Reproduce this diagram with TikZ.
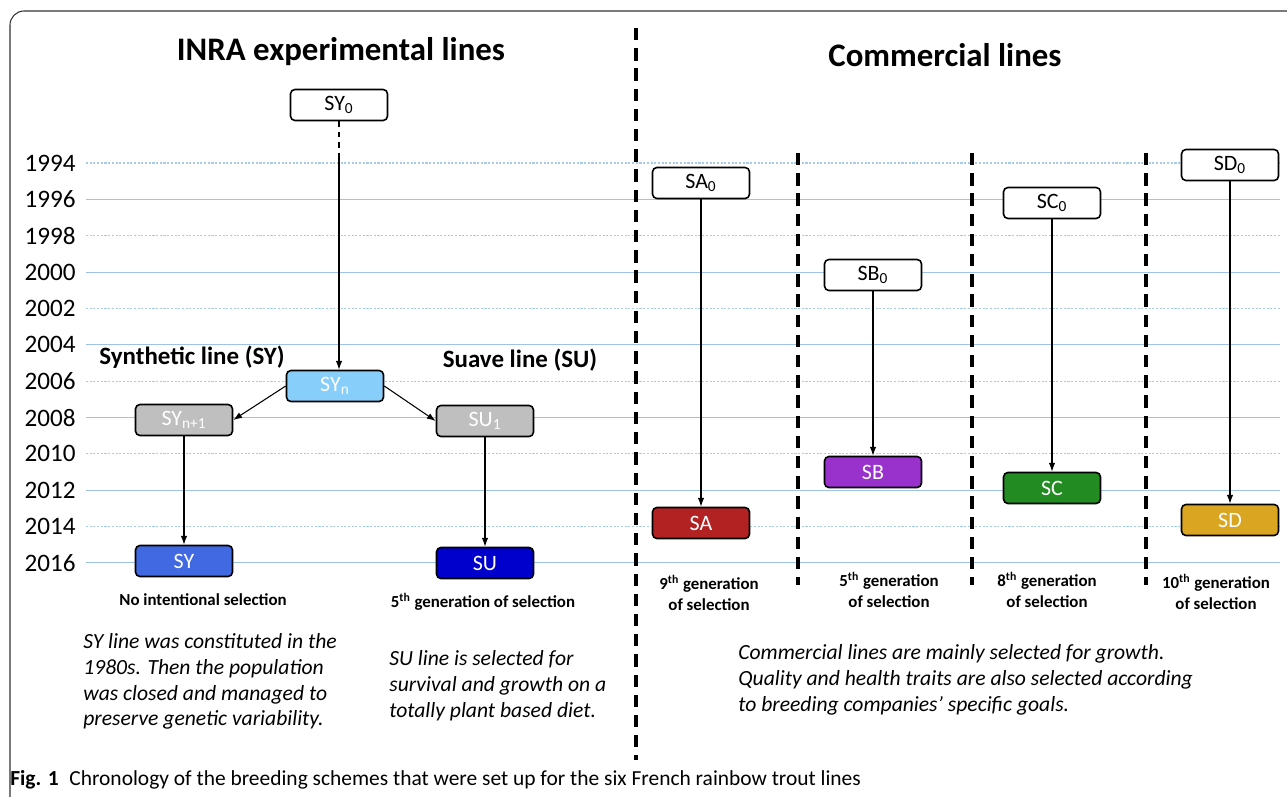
\documentclass[tikz,border=0pt]{standalone}
\usepackage{fontspec}
\setmainfont{Carlito}
\usetikzlibrary{arrows.meta}
\definecolor{gridblue}{HTML}{9DC3E6}
\definecolor{dotblue}{HTML}{A9CBEA}
\definecolor{synlight}{HTML}{87CEFA}
\definecolor{boxgray}{HTML}{BFBFBF}
\definecolor{syblue}{HTML}{4169E1}
\definecolor{sublue}{HTML}{0000CD}
\definecolor{sared}{HTML}{B22222}
\definecolor{sbpurple}{HTML}{9932CC}
\definecolor{scgreen}{HTML}{228B22}
\definecolor{sdgold}{HTML}{DAA520}
\newcommand{\gen}[1]{#1\textsuperscript{th}}

\begin{document}
\begin{tikzpicture}[x=0.02cm,y=-0.02cm,>={Latex[length=5pt,width=3.6pt]},
    year/.style={font=\fontsize{14.3}{14.3}\selectfont,anchor=east,inner sep=0pt},
    gridsolid/.style={draw=gridblue,line width=0.6pt},
    griddot/.style={draw=dotblue,line width=0.6pt,dash pattern=on 1.2pt off 0.9pt},
    box/.style={draw,line width=0.9pt,rounded corners=2.5pt,minimum width=1.94cm,
      minimum height=0.62cm,inner sep=0pt,font=\fontsize{12.5}{12.5}\selectfont},
    startbox/.style={box,fill=white},
    linebox/.style={box,fill=#1,text=white},
    conn/.style={line width=0.6pt},
    divider/.style={line width=1.9pt,dash pattern=on 7pt off 4.5pt},
    heading/.style={font=\fontsize{18.7}{18.7}\selectfont\bfseries},
    subhead/.style={font=\fontsize{14.2}{14.2}\selectfont\bfseries},
    genlabel/.style={font=\fontsize{9.6}{11.9}\selectfont\bfseries,align=center},
    note/.style={font=\fontsize{12.3}{14.7}\selectfont\itshape,align=left,
      anchor=north west,inner sep=0pt}]
  \clip (0,0) rectangle (1287,797);
  \draw[line width=0.6pt,rounded corners=8pt,black!80] (10,11) rectangle (1310,820);

  % time axis
  \foreach \i in {0,...,11}{
    \pgfmathsetmacro{\yy}{163+36.36*\i}
    \pgfmathtruncatemacro{\yr}{1994+2*\i}
    \node[year] (y\yr) at (76,\yy) {\yr};
    \ifodd\i
      \draw[gridsolid] (86,\yy) -- (1280,\yy);
    \else
      \draw[griddot] (86,\yy) -- (1280,\yy);
    \fi
  }

  % dividers
  \draw[divider] (636,28) -- (636,760);
  \foreach \xx in {798,972,1146}
    \draw[divider] (\xx,153) -- (\xx,585);

  \node[heading] (inra) at (341,52) {INRA experimental lines};
  \node[heading] (comm) at (945,55) {Commercial lines};

  % INRA lines
  \node[startbox] (SY0) at (339,105) {SY\textsubscript{0}};
  \node[linebox=synlight] (SYn) at (335,386) {SY\textsubscript{n}};
  \node[linebox=boxgray] (SYnp) at (184,420) {SY\textsubscript{n+1}};
  \node[linebox=boxgray] (SU1) at (485,421) {SU\textsubscript{1}};
  \node[linebox=syblue] (SY) at (184,561) {SY};
  \node[linebox=sublue] (SU) at (485,563) {SU};
  \coordinate (SYgap) at (339,158);
  \draw[conn,dashed] (SY0) -- (SYgap);
  \draw[conn,->] (SYgap) -- (SYgap |- SYn.north);
  \draw[conn,->] (SYn.west) -- (SYnp.east);
  \draw[conn,->] (SYn.east) -- (SU1.west);
  \draw[conn,->] (SYnp) -- (SY);
  \draw[conn,->] (SU1) -- (SU);
  \node[subhead] (synth) at (192,357) {Synthetic line (SY)};
  \node[subhead] (suave) at (520,360) {Suave line (SU)};
  \node[genlabel] (genSY) at (203,600) {No intentional selection};
  \node[genlabel] (genSU) at (483,602) {\gen{5} generation of selection};
  \node[note] (noteSY) at (83,633) {SY line was constituted in the\\1980s. Then the population\\was closed and managed to\\preserve genetic variability.};
  \node[note] (noteSU) at (389,650) {SU line is selected for\\survival and growth on a\\totally plant based diet.};

  % commercial lines
  \node[startbox] (SA0) at (701,183) {SA\textsubscript{0}};
  \node[startbox] (SB0) at (873,275) {SB\textsubscript{0}};
  \node[startbox] (SC0) at (1052,203) {SC\textsubscript{0}};
  \node[startbox] (SD0) at (1230,165) {SD\textsubscript{0}};
  \node[linebox=sared] (SA) at (701,523) {SA};
  \node[linebox=sbpurple] (SB) at (873,472) {SB};
  \node[linebox=scgreen] (SC) at (1052,488) {SC};
  \node[linebox=sdgold] (SD) at (1230,520) {SD};
  \foreach \ln in {A,B,C,D}
    \draw[conn,->] (S\ln0) -- (S\ln);
  \node[genlabel] (genSA) at (709,593) {\gen{9} generation\\of selection};
  \node[genlabel] (genSB) at (889,590) {\gen{5} generation\\of selection};
  \node[genlabel] (genSC) at (1047,590) {\gen{8} generation\\of selection};
  \node[genlabel] (genSD) at (1216,592) {\gen{10} generation\\of selection};
  \node[note] (noteComm) at (738,644) {Commercial lines are mainly selected for growth.\\Quality and health traits are also selected according\\to breeding companies’ specific goals.};

  \node[anchor=west,inner sep=0pt,font=\fontsize{12.2}{12.2}\selectfont] (caption) at (10,780)
    {\textbf{Fig. 1}\enspace Chronology of the breeding schemes that were set up for the six French rainbow trout lines};
\end{tikzpicture}
\end{document}
